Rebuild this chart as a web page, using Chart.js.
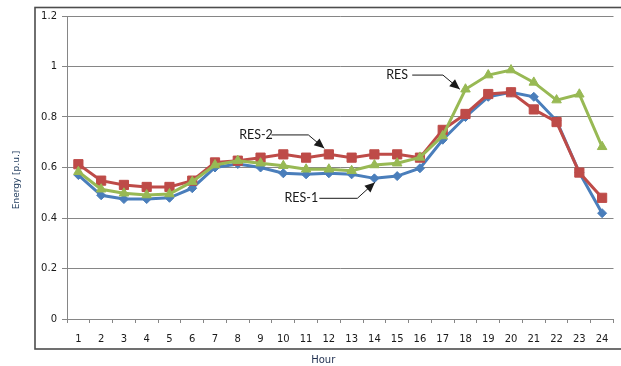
<!DOCTYPE html>
<html>
<head>
<meta charset="utf-8">
<script src="https://cdn.jsdelivr.net/npm/chart.js@4"></script>
<style>
html,body{margin:0;padding:0;background:#fff;}
#wrap{width:621px;height:366px;position:relative;}
</style>
</head>
<body>
<div id="wrap"><canvas id="c" width="621" height="366"></canvas></div>
<script>
const hours = ['1','2','3','4','5','6','7','8','9','10','11','12','13','14','15','16','17','18','19','20','21','22','23','24'];
const res1 = [0.57,0.49,0.475,0.475,0.48,0.518,0.60,0.614,0.60,0.577,0.573,0.577,0.573,0.557,0.566,0.597,0.71,0.80,0.88,0.898,0.88,0.785,0.58,0.419];
const res2 = [0.613,0.548,0.531,0.523,0.523,0.548,0.62,0.627,0.639,0.652,0.639,0.652,0.639,0.652,0.652,0.639,0.749,0.812,0.891,0.898,0.83,0.78,0.58,0.48];
const res  = [0.583,0.514,0.498,0.491,0.495,0.544,0.61,0.627,0.617,0.607,0.593,0.593,0.587,0.61,0.617,0.64,0.725,0.91,0.966,0.986,0.937,0.867,0.89,0.682];
const seriesNames = ['RES-1','RES-2','RES'];
const yTicks = [0,0.2,0.4,0.6,0.8,1,1.2];
const xTitle = 'Hour';
const yTitle = 'Energy [p.u.]';
// callouts: label, text anchor (category index, value), line start, bend, arrow tip
const callouts = [
  {text:'RES-2', at:[7.80,0.729], pts:[[8.48,0.729],[10.10,0.729],[10.80,0.676]]},
  {text:'RES-1', at:[9.79,0.478], pts:[[10.58,0.478],[12.25,0.478],[13.02,0.541]]},
  {text:'RES',   at:[14.0,0.966], pts:[[14.66,0.966],[16.01,0.966],[16.75,0.910]]}
];

const frame = {
  id:'frame',
  beforeDraw(chart){
    const ctx = chart.ctx;
    ctx.save();
    ctx.fillStyle='#fff';
    ctx.fillRect(0,0,chart.width,chart.height);
    ctx.strokeStyle='#4d4d4d';
    ctx.lineWidth=1.6;
    ctx.strokeRect(35,7.5,600,341.5);
    ctx.restore();
  },
  afterDraw(chart){
    const ctx = chart.ctx;
    const xs = chart.scales.x, ys = chart.scales.y;
    const ca = chart.chartArea;
    ctx.save();
    // axis titles
    ctx.fillStyle='#1f2f4f';
    ctx.font='10px "DejaVu Sans"';
    ctx.textAlign='center';
    ctx.textBaseline='middle';
    ctx.fillText(xTitle,(ca.left+ca.right)/2-17,360);
    ctx.save();
    ctx.translate(17,180);
    ctx.rotate(-Math.PI/2);
    ctx.font='9px "DejaVu Sans"';
    ctx.fillStyle='#243f60';
    ctx.fillText(yTitle,0,0);
    ctx.restore();
    // callouts
    const px = p => [xs.getPixelForValue(p[0]), ys.getPixelForValue(p[1])];
    ctx.font='12.5px Lato';
    ctx.fillStyle='#1a1a1a';
    ctx.strokeStyle='#1a1a1a';
    ctx.lineWidth=1;
    callouts.forEach(c=>{
      const a = px(c.at);
      ctx.fillText(c.text,a[0],a[1]);
      const p = c.pts.map(px);
      ctx.beginPath();
      ctx.moveTo(p[0][0],p[0][1]);
      ctx.lineTo(p[1][0],p[1][1]);
      ctx.lineTo(p[2][0],p[2][1]);
      ctx.stroke();
      const ang = Math.atan2(p[2][1]-p[1][1],p[2][0]-p[1][0]);
      const L=10,W=4.5;
      const tx=p[2][0],ty=p[2][1];
      ctx.beginPath();
      ctx.moveTo(tx,ty);
      ctx.lineTo(tx-L*Math.cos(ang)+W*Math.sin(ang),ty-L*Math.sin(ang)-W*Math.cos(ang));
      ctx.lineTo(tx-L*Math.cos(ang)-W*Math.sin(ang),ty-L*Math.sin(ang)+W*Math.cos(ang));
      ctx.closePath();
      ctx.fill();
    });
    ctx.restore();
  }
};

new Chart(document.getElementById('c'),{
  type:'line',
  data:{
    labels:hours,
    datasets:[
      {label:seriesNames[0],data:res1,borderColor:'#4a7ebb',backgroundColor:'#4a7ebb',borderWidth:3,pointStyle:'rectRot',pointRadius:4.5,pointBorderWidth:1,order:3},
      {label:seriesNames[1],data:res2,borderColor:'#be4b48',backgroundColor:'#be4b48',borderWidth:3,pointStyle:'rect',pointRadius:6.5,pointBorderWidth:1,order:2},
      {label:seriesNames[2],data:res,borderColor:'#98b954',backgroundColor:'#98b954',borderWidth:3,pointStyle:'triangle',pointRadius:5.5,pointBorderWidth:1,order:1}
    ]
  },
  options:{
    responsive:false,
    animation:false,
    layout:{padding:{top:16,right:6,bottom:0,left:0}},
    plugins:{legend:{display:false},tooltip:{enabled:false}},
    elements:{line:{tension:0}},
    scales:{
      x:{
        offset:true,
        grid:{display:true,drawOnChartArea:false,drawTicks:true,tickLength:4,color:'#868686',offset:true},
        border:{color:'#868686',width:1},
        ticks:{color:'#1a1a1a',font:{family:'DejaVu Sans',size:10},padding:10,maxRotation:0,autoSkip:false},
        afterFit(s){s.height=47;}
      },
      y:{
        min:0,max:1.2,
        afterBuildTicks(s){s.ticks=yTicks.map(v=>({value:v}));},
        grid:{color:'#868686',tickLength:5,drawTicks:true},
        border:{color:'#868686',width:1},
        ticks:{color:'#1a1a1a',font:{family:'DejaVu Sans',size:10},padding:5,callback:v=>String(v)},
        afterFit(s){s.width=67;}
      }
    }
  },
  plugins:[frame]
});
</script>
</body>
</html>
